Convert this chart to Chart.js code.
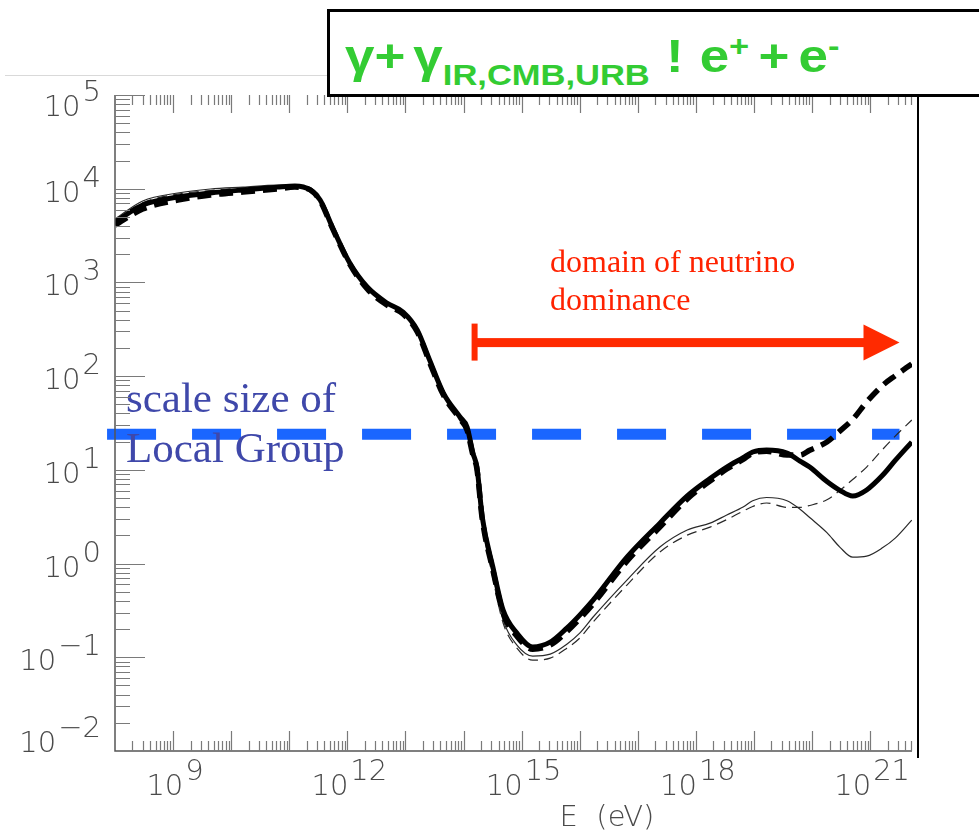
<!DOCTYPE html>
<html><head><meta charset="utf-8">
<script src="https://cdn.jsdelivr.net/npm/chart.js@4.4.1/dist/chart.umd.min.js"></script>
<style>
html,body{margin:0;padding:0;background:#fff;}
#wrap{position:relative;width:979px;height:838px;overflow:hidden;background:#fff;}
#c{position:absolute;left:0;top:0;}
.rule{position:absolute;left:5px;top:75px;width:323px;height:1px;background:#d9d9d9;}
.vline{position:absolute;left:917px;top:97px;width:2px;height:661px;background:#000;}
.tbox{position:absolute;left:327px;top:9px;width:700px;height:82px;border:3px solid #000;background:#fff;}
.title{position:absolute;left:345px;top:33px;display:flex;align-items:baseline;white-space:nowrap;
  font-family:"Liberation Sans",Arial,sans-serif;font-weight:bold;color:#33cc33;line-height:1;
  transform:scaleX(1.15);transform-origin:left top;}
.title span{display:inline-block;}
.big{font-size:46px;}
.sub{font-size:30px;position:relative;top:13px;}
.sup{font-size:30px;position:relative;top:-16px;}
</style></head>
<body>
<div id="wrap">
  <canvas id="c" width="979" height="838"></canvas>
  <div class="rule"></div>
  <div class="vline"></div>
  <div class="tbox"></div>
  <div class="title">
    <span class="big">γ+</span><span class="big" style="margin-left:7px">γ</span><span class="sub">IR,CMB,URB</span><span class="big" style="margin-left:14px">!</span><span class="big" style="margin-left:14px">e</span><span class="sup">+</span><span class="big" style="margin-left:8px">+</span><span class="big" style="margin-left:8px">e</span><span class="sup">-</span>
  </div>
</div>
<script>
// ---- data ----
const energyEV = [1.0e8, 3.0e8, 1.2e9, 4.4e9, 1.6e10, 6.2e10, 1.25e11, 2.3e11, 3.4e11, 5.6e11,
  1.1e12, 2.2e12, 4.8e12, 9.1e12, 1.6e13, 2.6e13, 4.5e13, 8.7e13, 1.15e14, 1.45e14,
  1.7e14, 2.1e14, 3.2e14, 4.8e14, 8.3e14, 1.55e15, 3.1e15, 6.0e15, 1.0e16, 1.7e16,
  6.5e16, 2.4e17, 7.1e17, 1.75e18, 3.4e18, 6.5e18, 9.5e18, 1.65e19, 3.7e19, 6.2e19,
  9.1e19, 1.8e20, 3.0e20, 5.0e20, 8.7e20, 1.65e21, 2.7e21, 5.2e21];

const thickSolid = [4400, 6700, 8150, 9000, 9700, 10400, 10700, 9700, 7570, 3810,
  1610, 893, 603, 483, 310, 149, 66, 36.6, 28.6, 15.1,
  10.7, 3.13, 0.918, 0.319, 0.181, 0.129, 0.145, 0.205, 0.282, 0.407,
  1.17, 2.70, 5.27, 8.07, 10.7, 13.5, 15.5, 16.3, 15.1, 12.4,
  10.7, 7.5, 6.05, 5.25, 6.1, 8.8, 12.6, 19.8];

const thickDashed = [4100, 6070, 7570, 8570, 9220, 9930, 10400, 9700, 7400, 3720,
  1570, 851, 574, 460, 296, 141, 62.8, 34.8, 26.6, 14.4,
  10.2, 2.99, 0.853, 0.296, 0.168, 0.122, 0.135, 0.188, 0.258, 0.372,
  1.06, 2.45, 4.9, 7.6, 10.2, 12.9, 15.1, 15.8, 14.4, 14.4,
  16.2, 19.8, 25.9, 34.5, 53, 80, 101, 135];

const thinSolid = [4750, 7400, 9000, 9930, 10400, 10900, 10900, 9930, 7760, 3900,
  1650, 916, 618, 495, 318, 156, 71, 34, 25.3, 14.4,
  9.95, 2.91, 0.753, 0.249, 0.135, 0.103, 0.108, 0.138, 0.181, 0.269,
  0.667, 1.50, 2.28, 2.70, 3.30, 4.01, 4.68, 5.07, 4.68, 3.8,
  3.1, 2.14, 1.50, 1.17, 1.2, 1.48, 1.87, 2.91];

const thinDashed = [4630, 7080, 8770, 9550, 10200, 10600, 10700, 9700, 7570, 3810,
  1610, 893, 603, 483, 310, 152, 69.3, 33.2, 24.7, 14.0,
  9.7, 2.77, 0.700, 0.232, 0.125, 0.0933, 0.098, 0.125, 0.160, 0.238,
  0.590, 1.33, 2.01, 2.45, 2.95, 3.63, 4.07, 4.43, 3.98, 3.98,
  4.17, 4.79, 6.03, 7.9, 10.7, 16.6, 22.9, 34.0];

// "scale size of Local Group" level
const scaleSizeE = [7.3e7, 3.2e21];
const scaleSizeMpc = [24, 24];

// "domain of neutrino dominance" arrow
const neutrinoArrowE = [1.55e14, 3.2e21];
const neutrinoArrowMpc = 228;

// axis range and tick labels
const xRange = [1e8, 5.25e21];
const yRange = [1e-2, 1e5];
const xLabelExponents = [9, 12, 15, 18, 21];
const yLabelExponents = [-2, -1, 0, 1, 2, 3, 4, 5];
const xAxisTitle = 'E (eV)';
const scaleLabelLines = ['scale size of', 'Local Group'];
const neutrinoLabelLines = ['domain of neutrino', 'dominance'];

// ---- chart ----
const pts = (xs, ys) => xs.map((x, i) => ({x: x, y: ys[i]}));
const LABEL_FONT = '200 29px "DejaVu Sans", "Liberation Sans", sans-serif';

function supSign(e) { return (e < 0 ? '\u2212' : '') + Math.abs(e); }

function drawPow(ctx, exp, anchorX, baseline, align) {
  ctx.font = LABEL_FONT;
  const base = '10', ex = supSign(exp);
  const wb = ctx.measureText(base).width;
  const we = ctx.measureText(ex).width;
  const gap = 2;
  const total = wb + gap + we;
  const left = align === 'center' ? anchorX - total / 2 : anchorX - total;
  ctx.textAlign = 'left';
  ctx.textBaseline = 'alphabetic';
  ctx.fillText(base, left, baseline);
  ctx.fillText(ex, left + wb + gap, baseline - 15);
}

const decor = {
  id: 'decor',
  afterDatasetsDraw(chart) {
    const {ctx, scales: {x, y}} = chart;
    ctx.save();
    // red arrow
    const ay = y.getPixelForValue(neutrinoArrowMpc);
    const ax0 = x.getPixelForValue(neutrinoArrowE[0]);
    const ax1 = x.getPixelForValue(neutrinoArrowE[1]);
    ctx.fillStyle = '#ff2a00';
    ctx.fillRect(ax0 - 3, ay - 19, 6, 37);
    ctx.fillRect(ax0, ay - 4.5, (ax1 - 35) - ax0, 9);
    ctx.beginPath();
    ctx.moveTo(ax1 - 36, ay - 18);
    ctx.lineTo(ax1, ay);
    ctx.lineTo(ax1 - 36, ay + 18);
    ctx.closePath();
    ctx.fill();
    // annotation texts
    ctx.textAlign = 'left';
    ctx.textBaseline = 'alphabetic';
    ctx.fillStyle = '#ff2200';
    ctx.font = '32px "Liberation Serif", "Times New Roman", serif';
    ctx.fillText(neutrinoLabelLines[0], 550, 272);
    ctx.fillText(neutrinoLabelLines[1], 550, 310);
    ctx.fillStyle = '#3f48aa';
    ctx.font = '43px "Liberation Serif", "Times New Roman", serif';
    ctx.fillText(scaleLabelLines[0], 126, 412);
    ctx.fillText(scaleLabelLines[1], 126, 462);
    ctx.restore();
  },
  afterDraw(chart) {
    const {ctx, chartArea: ca, scales: {x, y}} = chart;
    ctx.save();
    // axis lines
    ctx.strokeStyle = '#555';
    ctx.lineWidth = 1.5;
    ctx.beginPath();
    ctx.moveTo(ca.left, ca.top); ctx.lineTo(ca.left, ca.bottom); ctx.lineTo(ca.right, ca.bottom);
    ctx.stroke();
    // tick marks (inward)
    ctx.strokeStyle = '#7a7a7a';
    ctx.lineWidth = 1.2;
    ctx.beginPath();
    for (let n = 7; n <= 22; n++) {
      for (let m = 1; m <= 9; m++) {
        const v = m * Math.pow(10, n);
        if (v > xRange[0] * 1.0001 && v <= xRange[1]) {
          const px = Math.round(x.getPixelForValue(v)) + 0.5;
          const major = m === 1;
          ctx.moveTo(px, ca.bottom); ctx.lineTo(px, ca.bottom - (major ? 20 : 10));
          ctx.moveTo(px, ca.top); ctx.lineTo(px, ca.top + (major ? 18 : 10));
        }
      }
    }
    for (let n = -2; n <= 5; n++) {
      for (let m = 1; m <= 9; m++) {
        const v = m * Math.pow(10, n);
        if (v < yRange[0] * 1.0001 || v > yRange[1] * 1.0001) continue;
        const py = Math.round(y.getPixelForValue(v)) + 0.5;
        const major = m === 1;
        ctx.moveTo(ca.left, py); ctx.lineTo(ca.left + (major ? 30 : 15), py);
      }
    }
    ctx.stroke();
    // tick labels
    ctx.fillStyle = '#4a4a4a';
    xLabelExponents.forEach(e => {
      const px = x.getPixelForValue(Math.pow(10, e));
      drawPow(ctx, e, px + 2, ca.bottom + 44, 'center');
    });
    yLabelExponents.forEach(e => {
      const py = y.getPixelForValue(Math.pow(10, e));
      const bl = Math.min(Math.max(py + 13, ca.top + 21), ca.bottom + 1);
      drawPow(ctx, e, ca.left - 14, bl, 'right');
    });
    // axis title
    ctx.font = LABEL_FONT;
    ctx.textAlign = 'center';
    ctx.fillText(xAxisTitle.replace(' ', '  '), 607, 826);
    ctx.restore();
  }
};

new Chart(document.getElementById('c'), {
  type: 'line',
  data: {
    datasets: [
      {label: 'thin solid', data: pts(energyEV, thinSolid), borderColor: '#2a2a2a', borderWidth: 1.2,
       pointRadius: 0, cubicInterpolationMode: 'monotone', order: 5},
      {label: 'thin dashed', data: pts(energyEV, thinDashed), borderColor: '#2a2a2a', borderWidth: 1.2,
       borderDash: [10, 6], pointRadius: 0, cubicInterpolationMode: 'monotone', order: 4},
      {label: 'thick dashed', data: pts(energyEV, thickDashed), borderColor: '#000', borderWidth: 5.5,
       borderDash: [14, 8], pointRadius: 0, cubicInterpolationMode: 'monotone', order: 3},
      {label: 'thick solid', data: pts(energyEV, thickSolid), borderColor: '#000', borderWidth: 5,
       pointRadius: 0, cubicInterpolationMode: 'monotone', order: 2, borderJoinStyle: 'round'},
      {label: 'scale size of Local Group', data: pts(scaleSizeE, scaleSizeMpc), borderColor: '#1a66ff',
       borderWidth: 11, borderDash: [49, 36], borderCapStyle: 'butt', pointRadius: 0, tension: 0,
       clip: false, order: 10}
    ]
  },
  options: {
    responsive: false,
    devicePixelRatio: 1,
    animation: false,
    events: [],
    layout: {padding: {top: 95, right: 67, left: 0, bottom: 0}},
    plugins: {legend: {display: false}, tooltip: {enabled: false}, title: {display: false}},
    scales: {
      x: {type: 'logarithmic', min: xRange[0], max: xRange[1], position: 'bottom',
          grid: {display: false}, border: {display: false}, ticks: {display: false},
          afterFit(s) { s.height = 87; }},
      y: {type: 'logarithmic', min: yRange[0], max: yRange[1], position: 'left',
          grid: {display: false}, border: {display: false}, ticks: {display: false},
          afterFit(s) { s.width = 115; }}
    }
  },
  plugins: [decor]
});
</script>
</body></html>
